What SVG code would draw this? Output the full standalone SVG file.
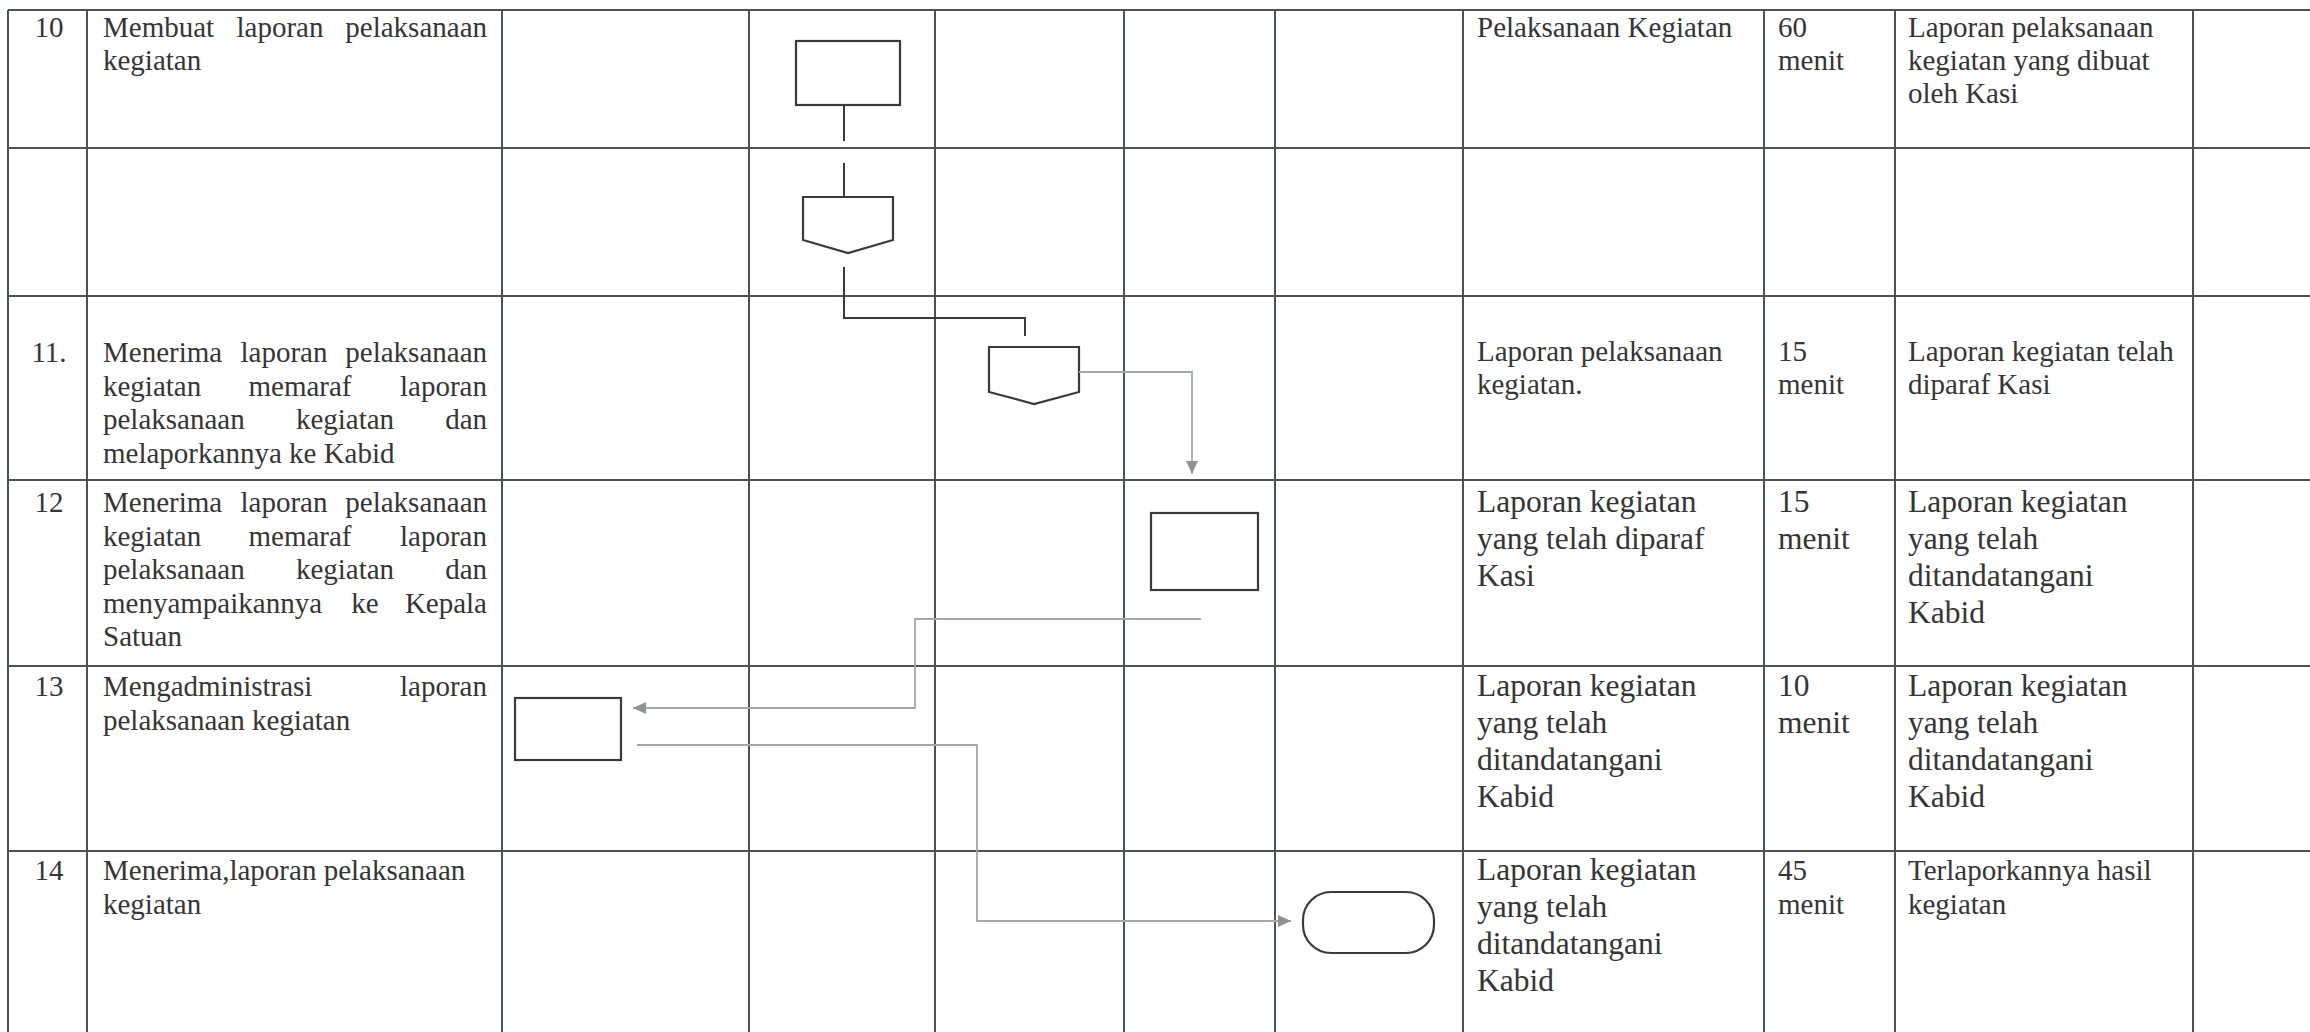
<svg xmlns="http://www.w3.org/2000/svg" width="2310" height="1032" viewBox="0 0 2310 1032">
<style>
.grid line{stroke:#4d5257;stroke-width:2;fill:none}
.t{font-family:"Liberation Serif","Times New Roman",serif;font-size:29px;fill:#353535}
.tl{font-family:"Liberation Serif","Times New Roman",serif;font-size:31.5px;fill:#353535}
.m{text-anchor:middle}
.e{text-anchor:end}
.shape{fill:none;stroke:#3a3a3a;stroke-width:2.2}
.conn{fill:none;stroke:#3a3a3a;stroke-width:2}
.conn2{fill:none;stroke:#a3a7ab;stroke-width:1.8}
</style>
<defs>
<marker id="ah" markerUnits="userSpaceOnUse" markerWidth="14" markerHeight="12" refX="13" refY="6" orient="auto">
<path d="M0,0 L13,6 L0,12 Z" fill="#8d9297"/>
</marker>
</defs>
<rect x="0" y="0" width="2310" height="1032" fill="#ffffff"/>
<g id="grid" class="grid">
<line x1="8" y1="10" x2="2310" y2="10"/>
<line x1="8" y1="148" x2="2310" y2="148"/>
<line x1="8" y1="296" x2="2310" y2="296"/>
<line x1="8" y1="480" x2="2310" y2="480"/>
<line x1="8" y1="666" x2="2310" y2="666"/>
<line x1="8" y1="851" x2="2310" y2="851"/>
<line x1="8" y1="10" x2="8" y2="1032"/>
<line x1="87" y1="10" x2="87" y2="1032"/>
<line x1="502" y1="10" x2="502" y2="1032"/>
<line x1="749" y1="10" x2="749" y2="1032"/>
<line x1="935" y1="10" x2="935" y2="1032"/>
<line x1="1124" y1="10" x2="1124" y2="1032"/>
<line x1="1275" y1="10" x2="1275" y2="1032"/>
<line x1="1463" y1="10" x2="1463" y2="1032"/>
<line x1="1764" y1="10" x2="1764" y2="1032"/>
<line x1="1895" y1="10" x2="1895" y2="1032"/>
<line x1="2193" y1="10" x2="2193" y2="1032"/>
</g>
<g id="texts">
<!-- row 10 -->
<text class="t m" x="49" y="37">10</text>
<text class="t" x="103" y="37">Membuat</text>
<text class="t m" x="280" y="37">laporan</text>
<text class="t e" x="487" y="37">pelaksanaan</text>
<text class="t" x="103" y="70">kegiatan</text>
<text class="t" x="1477" y="37">Pelaksanaan Kegiatan</text>
<text class="t" x="1778" y="37">60</text>
<text class="t" x="1778" y="70">menit</text>
<text class="t" x="1908" y="37">Laporan pelaksanaan</text>
<text class="t" x="1908" y="70">kegiatan yang dibuat</text>
<text class="t" x="1908" y="103">oleh Kasi</text>
<!-- row 11 -->
<text class="t m" x="49" y="362">11.</text>
<text class="t" x="103" y="362">Menerima</text>
<text class="t m" x="284" y="362">laporan</text>
<text class="t e" x="487" y="362">pelaksanaan</text>
<text class="t" x="103" y="395.5">kegiatan</text>
<text class="t m" x="300" y="395.5">memaraf</text>
<text class="t e" x="487" y="395.5">laporan</text>
<text class="t" x="103" y="429">pelaksanaan</text>
<text class="t m" x="345" y="429">kegiatan</text>
<text class="t e" x="487" y="429">dan</text>
<text class="t" x="103" y="462.5">melaporkannya ke Kabid</text>
<text class="t" x="1477" y="361">Laporan pelaksanaan</text>
<text class="t" x="1477" y="394">kegiatan.</text>
<text class="t" x="1778" y="361">15</text>
<text class="t" x="1778" y="394">menit</text>
<text class="t" x="1908" y="361">Laporan kegiatan telah</text>
<text class="t" x="1908" y="394">diparaf Kasi</text>
<!-- row 12 -->
<text class="t m" x="49" y="512">12</text>
<text class="t" x="103" y="512">Menerima</text>
<text class="t m" x="284" y="512">laporan</text>
<text class="t e" x="487" y="512">pelaksanaan</text>
<text class="t" x="103" y="545.5">kegiatan</text>
<text class="t m" x="300" y="545.5">memaraf</text>
<text class="t e" x="487" y="545.5">laporan</text>
<text class="t" x="103" y="579">pelaksanaan</text>
<text class="t m" x="345" y="579">kegiatan</text>
<text class="t e" x="487" y="579">dan</text>
<text class="t" x="103" y="612.5">menyampaikannya</text>
<text class="t m" x="365" y="612.5">ke</text>
<text class="t e" x="487" y="612.5">Kepala</text>
<text class="t" x="103" y="646">Satuan</text>
<text class="tl" x="1477" y="512">Laporan kegiatan</text>
<text class="tl" x="1477" y="549">yang telah diparaf</text>
<text class="tl" x="1477" y="586">Kasi</text>
<text class="tl" x="1778" y="512">15</text>
<text class="tl" x="1778" y="549">menit</text>
<text class="tl" x="1908" y="512">Laporan kegiatan</text>
<text class="tl" x="1908" y="549">yang telah</text>
<text class="tl" x="1908" y="586">ditandatangani</text>
<text class="tl" x="1908" y="623">Kabid</text>
<!-- row 13 -->
<text class="t m" x="49" y="696">13</text>
<text class="t" x="103" y="696">Mengadministrasi</text>
<text class="t e" x="487" y="696">laporan</text>
<text class="t" x="103" y="729.5">pelaksanaan kegiatan</text>
<text class="tl" x="1477" y="696">Laporan kegiatan</text>
<text class="tl" x="1477" y="733">yang telah</text>
<text class="tl" x="1477" y="770">ditandatangani</text>
<text class="tl" x="1477" y="807">Kabid</text>
<text class="tl" x="1778" y="696">10</text>
<text class="tl" x="1778" y="733">menit</text>
<text class="tl" x="1908" y="696">Laporan kegiatan</text>
<text class="tl" x="1908" y="733">yang telah</text>
<text class="tl" x="1908" y="770">ditandatangani</text>
<text class="tl" x="1908" y="807">Kabid</text>
<!-- row 14 -->
<text class="t m" x="49" y="880">14</text>
<text class="t" x="103" y="880">Menerima,laporan pelaksanaan</text>
<text class="t" x="103" y="913.5">kegiatan</text>
<text class="tl" x="1477" y="880">Laporan kegiatan</text>
<text class="tl" x="1477" y="917">yang telah</text>
<text class="tl" x="1477" y="954">ditandatangani</text>
<text class="tl" x="1477" y="991">Kabid</text>
<text class="t" x="1778" y="880">45</text>
<text class="t" x="1778" y="914">menit</text>
<text class="t" x="1908" y="880">Terlaporkannya hasil</text>
<text class="t" x="1908" y="914">kegiatan</text>
</g>
<g id="node-10-process"><rect class="shape" x="796" y="41" width="104" height="64"/></g>
<g id="node-10-offpage"><path class="shape" d="M803,197 H893 V240 L848,253 L803,240 Z"/></g>
<g id="node-11-offpage"><path class="shape" d="M989,347 H1079 V392 L1034,404 L989,392 Z"/></g>
<g id="node-12-process"><rect class="shape" x="1151" y="513" width="107" height="77"/></g>
<g id="node-13-process"><rect class="shape" x="515" y="698" width="106" height="62"/></g>
<g id="node-14-terminator"><rect class="shape" x="1303" y="892" width="131" height="61" rx="28" ry="28"/></g>
<g id="connectors">
<path class="conn" d="M844,105 V141"/>
<path class="conn" d="M844,163 V197"/>
<path class="conn" d="M844,267 V318 H1025 V336"/>
<path class="conn2" d="M1079,372 H1192 V474" marker-end="url(#ah)"/>
<path class="conn2" d="M1201,619 H915 V708 H633" marker-end="url(#ah)"/>
<path class="conn2" d="M637,745 H977 V921 H1291" marker-end="url(#ah)"/>
</g>
</svg>
